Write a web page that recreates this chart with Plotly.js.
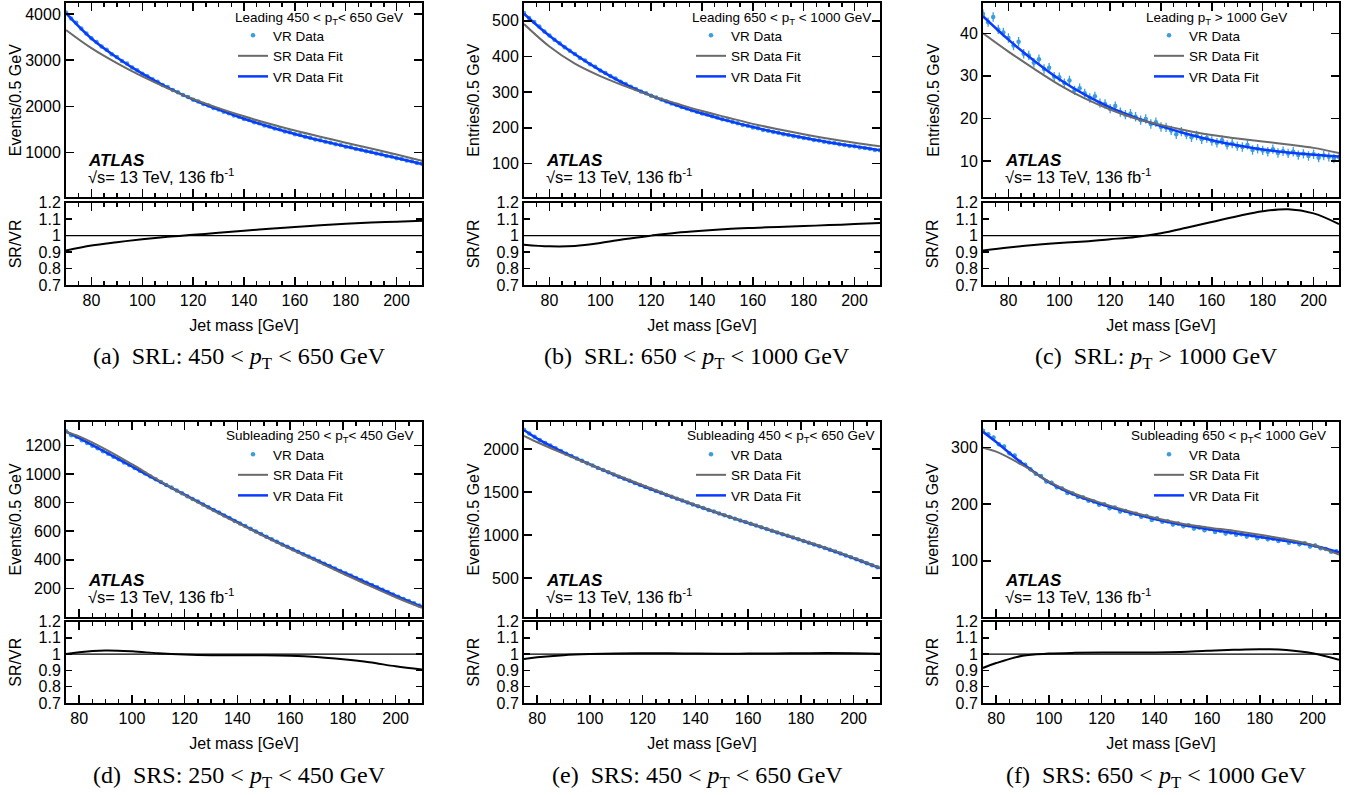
<!DOCTYPE html>
<html>
<head>
<meta charset="utf-8">
<script src="https://cdn.plot.ly/plotly-3.0.1.min.js"></script>
<style>
html,body{margin:0;padding:0;background:#ffffff;}
#chart{width:1354px;height:795px;}
</style>
</head>
<body>
<div id="chart"></div>
<script>
// ---------------- DATA ----------------
const massTop = [70,72,74,76,78,80,82,84,86,88,90,92,94,96,98,100,102,104,106,108,110,112,114,116,118,120,122,124,126,128,130,132,134,136,138,140,142,144,146,148,150,152,154,156,158,160,162,164,166,168,170,172,174,176,178,180,182,184,186,188,190,192,194,196,198,200,202,204,206,208,210];
const massBottom = [75,77,79,81,83,85,87,89,91,93,95,97,99,101,103,105,107,109,111,113,115,117,119,121,123,125,127,129,131,133,135,137,139,141,143,145,147,149,151,153,155,157,159,161,163,165,167,169,171,173,175,177,179,181,183,185,187,189,191,193,195,197,199,201,203,205,207,209];
const fitMassTop = [70,80,90,100,110,120,130,140,150,160,170,180,190,200,210];
const fitMassBottom = [75,80,90,100,110,120,130,140,150,160,170,180,190,200,210];
const xTickLabels = [80,100,120,140,160,180,200];
const ratioTicks = [0.7,0.8,0.9,1,1.1,1.2];

// (a) Leading 450 < pT < 650 GeV
const dataA = [4030,3905,3810,3685,3580,3475,3395,3295,3225,3130,3070,2985,2930,2845,2785,2710,2655,2590,2535,2465,2420,2355,2310,2250,2205,2145,2110,2055,2020,1965,1935,1885,1855,1805,1780,1730,1705,1660,1635,1590,1565,1525,1505,1460,1440,1400,1380,1345,1325,1285,1270,1235,1215,1180,1165,1130,1115,1080,1065,1030,1015,980,965,930,915,880,865,830,815,775,760];
const vrFitA = [4020,3470,3060,2710,2410,2150,1930,1735,1560,1405,1265,1135,1010,885,755];
const srFitA = [3655,3262,2938,2650,2393,2161,1963,1787,1625,1479,1345,1217,1090,960,823];
const ratioA = [0.91,0.94,0.96,0.978,0.993,1.005,1.017,1.03,1.042,1.053,1.063,1.072,1.079,1.085,1.09];

// (b) Leading 650 < pT < 1000 GeV
const dataB = [522,508,497,484,470,459,447,437,426,416,407,396,389,378,371,361,354,345,338,329,323,315,309,302,297,290,285,279,274,268,264,258,254,249,245,240,237,232,229,224,221,216,213,208,206,201,199,194,192,188,186,182,180,176,174,171,170,166,164,161,159,157,154,152,149,148,145,143,141,138,137];
const vrFitB = [520,458,406,361,322,290,263,240,220,202,186,172,159,148,137];
const srFitB = [491,428,380,345,316,290,268,247,229,211,196,182,169,158,148];
const ratioB = [0.945,0.935,0.937,0.955,0.98,1.0,1.018,1.03,1.04,1.047,1.053,1.058,1.064,1.07,1.077];

// (c) Leading pT > 1000 GeV
const dataC = [44.5,42.6,43.8,40.9,40.2,38.9,37.1,38.0,35.2,34.8,33.1,33.9,31.6,31.9,29.8,29.7,28.3,28.9,26.6,27.1,25.9,24.8,25.2,23.6,23.4,22.3,22.9,21.5,20.9,21.1,20.4,19.6,19.9,18.7,19.1,18.0,17.9,17.2,16.3,16.9,16.2,15.6,16.0,15.1,15.4,14.7,14.3,14.9,13.8,14.1,13.5,13.3,13.8,12.6,12.9,12.5,12.2,12.8,11.9,12.3,11.8,12.2,11.4,11.7,11.2,11.6,10.8,11.3,11.0,10.6,10.9];
const vrFitC = [44.0,38.5,33.6,29.2,25.6,22.6,20.2,18.2,16.4,14.9,13.7,12.7,12.0,11.5,11.1];
const srFitC = [40.0,35.7,31.7,27.9,24.7,22.1,20.0,18.5,17.2,16.1,15.3,14.6,13.9,13.1,11.9];
const ratioC = [0.91,0.928,0.943,0.955,0.965,0.978,0.992,1.015,1.048,1.083,1.118,1.148,1.16,1.135,1.07];

// (d) Subleading 250 < pT < 450 GeV
const dataD = [1298,1270,1260,1236,1216,1197,1180,1158,1141,1120,1102,1080,1062,1042,1022,1003,982,963,943,923,905,885,865,845,826,807,787,768,748,730,710,692,672,654,636,617,598,580,561,544,526,508,491,474,457,440,423,407,390,373,357,340,323,307,290,274,257,241,224,208,192,175,159,143,127,112,97,81];
const vrFitD = [1296,1250,1152,1052,952,855,758,663,570,482,398,315,232,150,72];
const srFitD = [1296,1262,1172,1068,957,852,753,658,566,477,391,305,220,139,65];
const ratioD = [1.0,1.012,1.022,1.017,1.005,0.997,0.993,0.993,0.993,0.99,0.982,0.968,0.95,0.925,0.905];

// (e) Subleading 450 < pT < 650 GeV
const dataE = [2222,2180,2142,2103,2070,2040,2008,1975,1945,1918,1890,1862,1833,1807,1780,1755,1728,1703,1678,1655,1630,1605,1582,1558,1535,1512,1490,1466,1444,1422,1400,1378,1356,1335,1313,1292,1272,1250,1230,1210,1190,1170,1150,1130,1110,1090,1070,1050,1030,1010,990,970,950,930,910,890,870,850,829,807,785,763,741,718,695,672,649,626];
const vrFitE = [2220,2120,1960,1820,1690,1570,1455,1345,1240,1140,1040,940,840,730,615];
const srFitE = [2153,2078,1946,1820,1697,1578,1462,1349,1242,1143,1044,945,845,734,616];
const ratioE = [0.97,0.98,0.993,1.0,1.004,1.005,1.005,1.003,1.002,1.003,1.004,1.005,1.006,1.005,1.002];

// (f) Subleading 650 < pT < 1000 GeV
const dataF = [330,324,318,306,302,290,286,275,270,262,254,250,240,238,230,228,220,219,213,212,206,205,199,200,193,194,187,188,183,183,178,179,172,175,169,170,164,166,161,163,157,159,154,156,151,153,148,150,146,147,143,145,140,142,138,139,135,137,132,133,129,131,125,127,122,121,116,117];
const vrFitF = [328,310,272,239,216,200,186,174,164,156,149,142,135,127,115];
const srFitF = [300,293,269,240,218,202,188,176,166,159,153,146,138,128,111];
const ratioF = [0.915,0.945,0.99,1.003,1.008,1.01,1.01,1.01,1.013,1.02,1.026,1.03,1.025,1.005,0.965];

// text
const legendTitles = [
  'Leading 450 &lt; p<sub>T</sub>&lt; 650 GeV',
  'Leading 650 &lt; p<sub>T</sub> &lt; 1000 GeV',
  'Leading p<sub>T</sub> &gt; 1000 GeV',
  'Subleading 250 &lt; p<sub>T</sub>&lt; 450 GeV',
  'Subleading 450 &lt; p<sub>T</sub>&lt; 650 GeV',
  'Subleading 650 &lt; p<sub>T</sub>&lt; 1000 GeV'
];
const captions = [
  '(a)&nbsp;&nbsp;SRL: 450 &lt; <i>p</i><sub>T</sub> &lt; 650 GeV',
  '(b)&nbsp;&nbsp;SRL: 650 &lt; <i>p</i><sub>T</sub> &lt; 1000 GeV',
  '(c)&nbsp;&nbsp;SRL: <i>p</i><sub>T</sub> &gt; 1000 GeV',
  '(d)&nbsp;&nbsp;SRS: 250 &lt; <i>p</i><sub>T</sub> &lt; 450 GeV',
  '(e)&nbsp;&nbsp;SRS: 450 &lt; <i>p</i><sub>T</sub> &lt; 650 GeV',
  '(f)&nbsp;&nbsp;SRS: 650 &lt; <i>p</i><sub>T</sub> &lt; 1000 GeV'
];
const yTitles = ['Events/0.5 GeV','Entries/0.5 GeV','Entries/0.5 GeV','Events/0.5 GeV','Events/0.5 GeV','Events/0.5 GeV'];

// ---------------- LAYOUT / STYLE ----------------
const W = 1354, H = 795;
const SANS = '"Liberation Sans", Arial, Helvetica, sans-serif';
const SERIF = '"Liberation Serif", "Times New Roman", Times, serif';
const cols = [[66,422],[524,880],[983,1339]];
const mainRows = [[3,197.3],[421.7,617]];
const ratioRows = [[202.7,285],[621.5,703]];
const fx = p => p / W;
const fy = p => 1 - p / H;

const panels = [
  {mass: massTop, data: dataA, fm: fitMassTop, vr: vrFitA, sr: srFitA, ratio: ratioA, xr:[70,210], yr:[35,4238], dt:1000, err:25, so:0,  rso:13, titleRight:405, legX:233},
  {mass: massTop, data: dataB, fm: fitMassTop, vr: vrFitB, sr: srFitB, ratio: ratioB, xr:[70,210], yr:[5,550],   dt:100,  err:4,  so:8,  rso:13, titleRight:873, legX:691},
  {mass: massTop, data: dataC, fm: fitMassTop, vr: vrFitC, sr: srFitC, ratio: ratioC, xr:[70,210], yr:[1.5,47.1],dt:10,   err:1.1,so:16, rso:13, titleRight:1289, legX:1149},
  {mass: massBottom, data: dataD, fm: fitMassBottom, vr: vrFitD, sr: srFitD, ratio: ratioD, xr:[75,210], yr:[1,1365], dt:200, err:10, so:0,  rso:13, titleRight:415, legX:233},
  {mass: massBottom, data: dataE, fm: fitMassBottom, vr: vrFitE, sr: srFitE, ratio: ratioE, xr:[75,210], yr:[47,2317],dt:500, err:14, so:0,  rso:13, titleRight:876, legX:691},
  {mass: massBottom, data: dataF, fm: fitMassBottom, vr: vrFitF, sr: srFitF, ratio: ratioF, xr:[75,210], yr:[0.5,346],dt:100, err:3.5,so:8,  rso:13, titleRight:1328, legX:1149}
];

const DATA_COLOR = '#3c9ddc';
const VR_COLOR = '#0a3cff';
const SR_COLOR = '#6a6a6a';

const traces = [];
const layout = {
  width: W, height: H,
  margin: {l:0, r:0, t:0, b:0},
  paper_bgcolor: '#ffffff', plot_bgcolor: 'rgba(0,0,0,0)',
  font: {family: SANS, color: '#000000', size: 16},
  annotations: [], shapes: []
};

const axisBase = {
  showgrid: false, zeroline: false, showline: true, linecolor: '#000000', linewidth: 2,
  mirror: 'allticks', ticks: 'inside', tickcolor: '#000000', tickwidth: 1.5,
  tickfont: {family: SANS, size: 16, color: '#000000'}, fixedrange: true
};

panels.forEach((p, i) => {
  const col = cols[i % 3];
  const row = Math.floor(i / 3);
  const km = 2*i + 1, kr = 2*i + 2;
  const legName = i === 0 ? 'legend' : 'legend' + (i + 1);

  traces.push({
    type: 'scatter', mode: 'markers', x: p.mass, y: p.data,
    xaxis: 'x' + km, yaxis: 'y' + km, name: 'VR Data', legend: legName, legendrank: 1,
    marker: {size: 4.5, color: DATA_COLOR},
    error_y: {type: 'constant', value: p.err, color: DATA_COLOR, thickness: 1.3, width: 0},
    hoverinfo: 'skip'
  });
  traces.push({
    type: 'scatter', mode: 'lines', x: p.fm, y: p.vr,
    xaxis: 'x' + km, yaxis: 'y' + km, name: 'VR Data Fit', legend: legName, legendrank: 3,
    line: {color: VR_COLOR, width: 2.5, shape: 'spline', smoothing: 1}
  });
  traces.push({
    type: 'scatter', mode: 'lines', x: p.fm, y: p.sr,
    xaxis: 'x' + km, yaxis: 'y' + km, name: 'SR Data Fit', legend: legName, legendrank: 2,
    line: {color: SR_COLOR, width: 2, shape: 'spline', smoothing: 1}
  });
  traces.push({
    type: 'scatter', mode: 'lines', x: p.fm, y: p.ratio,
    xaxis: 'x' + kr, yaxis: 'y' + kr, showlegend: false, name: 'SR/VR',
    line: {color: '#000000', width: 2, shape: 'spline', smoothing: 1}
  });

  const xdom = [fx(col[0]), fx(col[1])];
  const mr = mainRows[row], rr = ratioRows[row];

  layout['xaxis' + km] = Object.assign({}, axisBase, {
    domain: xdom, anchor: 'y' + km, range: p.xr, tickvals: xTickLabels, ticklen: 8,
    showticklabels: false,
    minor: {dtick: 5, tick0: 0, ticks: 'inside', ticklen: 4, tickcolor: '#000000', tickwidth: 1.5, showgrid: false}
  });
  layout['yaxis' + km] = Object.assign({}, axisBase, {
    domain: [fy(mr[1]), fy(mr[0])], anchor: 'x' + km, range: p.yr, dtick: p.dt, tick0: 0, ticklen: 8,
    title: {text: yTitles[i], font: {family: SANS, size: 16, color: '#000000'}, standoff: p.so}
  });
  layout['xaxis' + kr] = Object.assign({}, axisBase, {
    domain: xdom, anchor: 'y' + kr, range: p.xr, tickvals: xTickLabels, ticklen: 8,
    minor: {dtick: 5, tick0: 0, ticks: 'inside', ticklen: 4, tickcolor: '#000000', tickwidth: 1.5, showgrid: false},
    title: {text: 'Jet mass [GeV]', font: {family: SANS, size: 16, color: '#000000'}, standoff: 12}
  });
  layout['yaxis' + kr] = Object.assign({}, axisBase, {
    domain: [fy(rr[1]), fy(rr[0])], anchor: 'x' + kr, range: [0.7, 1.2], tickvals: ratioTicks, ticklen: 6,
    title: {text: 'SR/VR', font: {family: SANS, size: 16, color: '#000000'}, standoff: p.rso}
  });

  // reference line at 1 in ratio pad
  layout.shapes.push({type: 'line', xref: 'x' + kr + ' domain', yref: 'y' + kr, x0: 0, x1: 1, y0: 1, y1: 1,
    line: {color: '#000000', width: 1.2}});

  // legend (three entries)
  const legTop = row === 0 ? 20 : 439;
  layout[legName] = {
    x: fx(p.legX), y: fy(legTop), xanchor: 'left', yanchor: 'top',
    bgcolor: 'rgba(0,0,0,0)', borderwidth: 0, traceorder: 'normal', itemwidth: 30, tracegroupgap: 0,
    font: {family: SANS, size: 13.5, color: '#000000'}
  };

  // panel header text (pT bin)
  layout.annotations.push({xref: 'paper', yref: 'paper', x: fx(p.titleRight), y: fy(row === 0 ? 19 : 436),
    xanchor: 'right', yanchor: 'middle', showarrow: false, text: legendTitles[i],
    font: {family: SANS, size: 13.5, color: '#000000'}});

  // ATLAS label
  const atlasY = mr[1] - 37, lumiY = mr[1] - 21;
  layout.annotations.push({xref: 'paper', yref: 'paper', x: fx(col[0] + 20), y: fy(atlasY),
    xanchor: 'left', yanchor: 'middle', showarrow: false, text: '<b><i>ATLAS</i></b>',
    font: {family: SANS, size: 17, color: '#000000'}});
  layout.annotations.push({xref: 'paper', yref: 'paper', x: fx(col[0] + 20), y: fy(lumiY),
    xanchor: 'left', yanchor: 'middle', showarrow: false, text: '√s= 13 TeV, 136 fb<sup>-1</sup>',
    font: {family: SANS, size: 16.5, color: '#000000'}});

  // sub-figure caption
  layout.annotations.push({xref: 'paper', yref: 'paper', x: fx((col[0] + col[1]) / 2 - 5), y: fy(row === 0 ? 358 : 777),
    xanchor: 'center', yanchor: 'middle', showarrow: false, text: captions[i],
    font: {family: SERIF, size: 24, color: '#000000'}});
});

Plotly.newPlot('chart', traces, layout, {displayModeBar: false, staticPlot: true});
</script>
</body>
</html>
